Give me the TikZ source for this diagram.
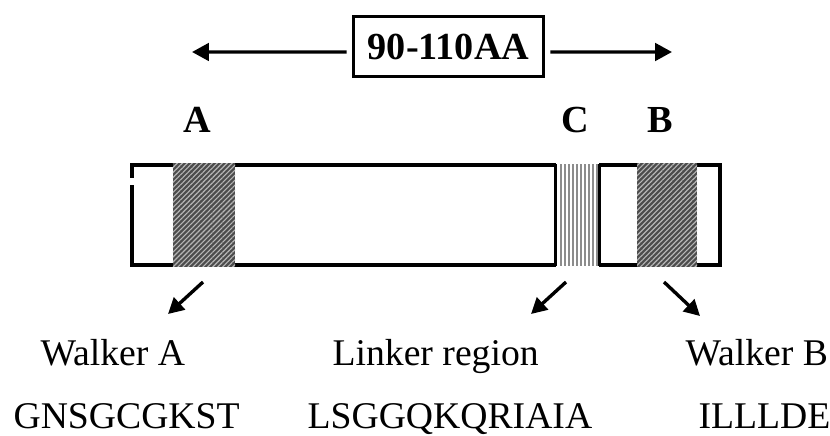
\documentclass[tikz,border=0pt]{standalone}
\usepackage{fontspec}
\setmainfont{Liberation Serif}
\usetikzlibrary{arrows.meta,patterns.meta,positioning}

\tikzset{
  fat/.style={line width=1.2pt},
  toptip/.style={-{Triangle[length=6pt,width=6.2pt]}},
  downtip/.style={-{Triangle[length=5.6pt,width=5.8pt]}},
  hatched/.style={inner sep=0pt,minimum height=1.2875cm,fill=black!70,
    postaction={pattern={Lines[angle=45,distance=1.25pt,line width=0.4pt]},pattern color=black!28}},
  lbl/.style={font=\fontsize{13.4}{16}\selectfont,inner sep=0pt},
  bold lbl/.style={font=\fontsize{13.6}{16}\selectfont\bfseries,inner sep=0pt},
}

\begin{document}
\begin{tikzpicture}[x=0.0125cm,y=-0.0125cm]
      \useasboundingbox (0,0) rectangle (830,435);

      %% span box and arrows
      \node[draw,fat,bold lbl,minimum width=2.375cm,minimum height=0.75cm,outer sep=2.4pt] (span) at (448.5,46.5) {90-110AA};
      \coordinate (leftend) at (192,52);
      \coordinate (rightend) at (672,52);
      \draw[fat,toptip] ([yshift=-1.95pt]span.west) -- (leftend);
      \draw[fat,toptip] ([yshift=-1.95pt]span.east) -- (rightend);

      %% motif letters
      \node[bold lbl,anchor=base] (labA) at (197,133) {A};
      \node[bold lbl,anchor=base] (labC) at (575,133) {C};
      \node[bold lbl,anchor=base] (labB) at (660,133) {B};

      %% protein bar (small gap in the left side)
      \draw[fat] (132,185) -- (132,265) -- (720,265) -- (720,165) -- (132,165) -- (132,178);

      %% regions
      \node[hatched,minimum width=0.775cm] (regA) at (204,215) {};
      \node[hatched,minimum width=0.75cm] (regB) at (667,215) {};
      \node[fill=white,inner sep=0pt,minimum width=0.5375cm,minimum height=1.2875cm] (regC) at (577.5,215) {};
      \foreach \x in {561,565,...,597}
        \draw[black!45,line width=0.55pt] (\x,164) -- (\x,266);
      \draw[fat] ([yshift=-0.53pt]regC.north west) -- ([yshift=0.53pt]regC.south west);
      \draw[fat] ([yshift=-0.53pt]regC.north east) -- ([yshift=0.53pt]regC.south east);

      %% pointers
      \coordinate (fromA) at (203,282);
      \coordinate (tipA) at (168,314);
      \coordinate (fromC) at (566,282);
      \coordinate (tipC) at (531,314);
      \coordinate (fromB) at (664,282);
      \coordinate (tipB) at (700,316);
      \draw[fat,downtip] (fromA) -- (tipA); % A
      \draw[fat,downtip] (fromC) -- (tipC); % C
      \draw[fat,downtip] (fromB) -- (tipB); % B

      %% names
      \node[lbl,anchor=base west] (nameA) at (40,365) {Walker A};
      \node[lbl,anchor=base west] (nameC) at (332,365) {Linker region};
      \node[lbl,anchor=base west] (nameB) at (685,365) {Walker B};

      %% sequences
      \node[lbl,anchor=base west] (seqA) at (13,428) {GNSGCGKST};
      \node[lbl,anchor=base west] (seqC) at (307,428) {LSGGQKQRIAIA};
      \node[lbl,anchor=base west] (seqB) at (698,428) {ILLLDE};

   \end{tikzpicture}
\end{document}
